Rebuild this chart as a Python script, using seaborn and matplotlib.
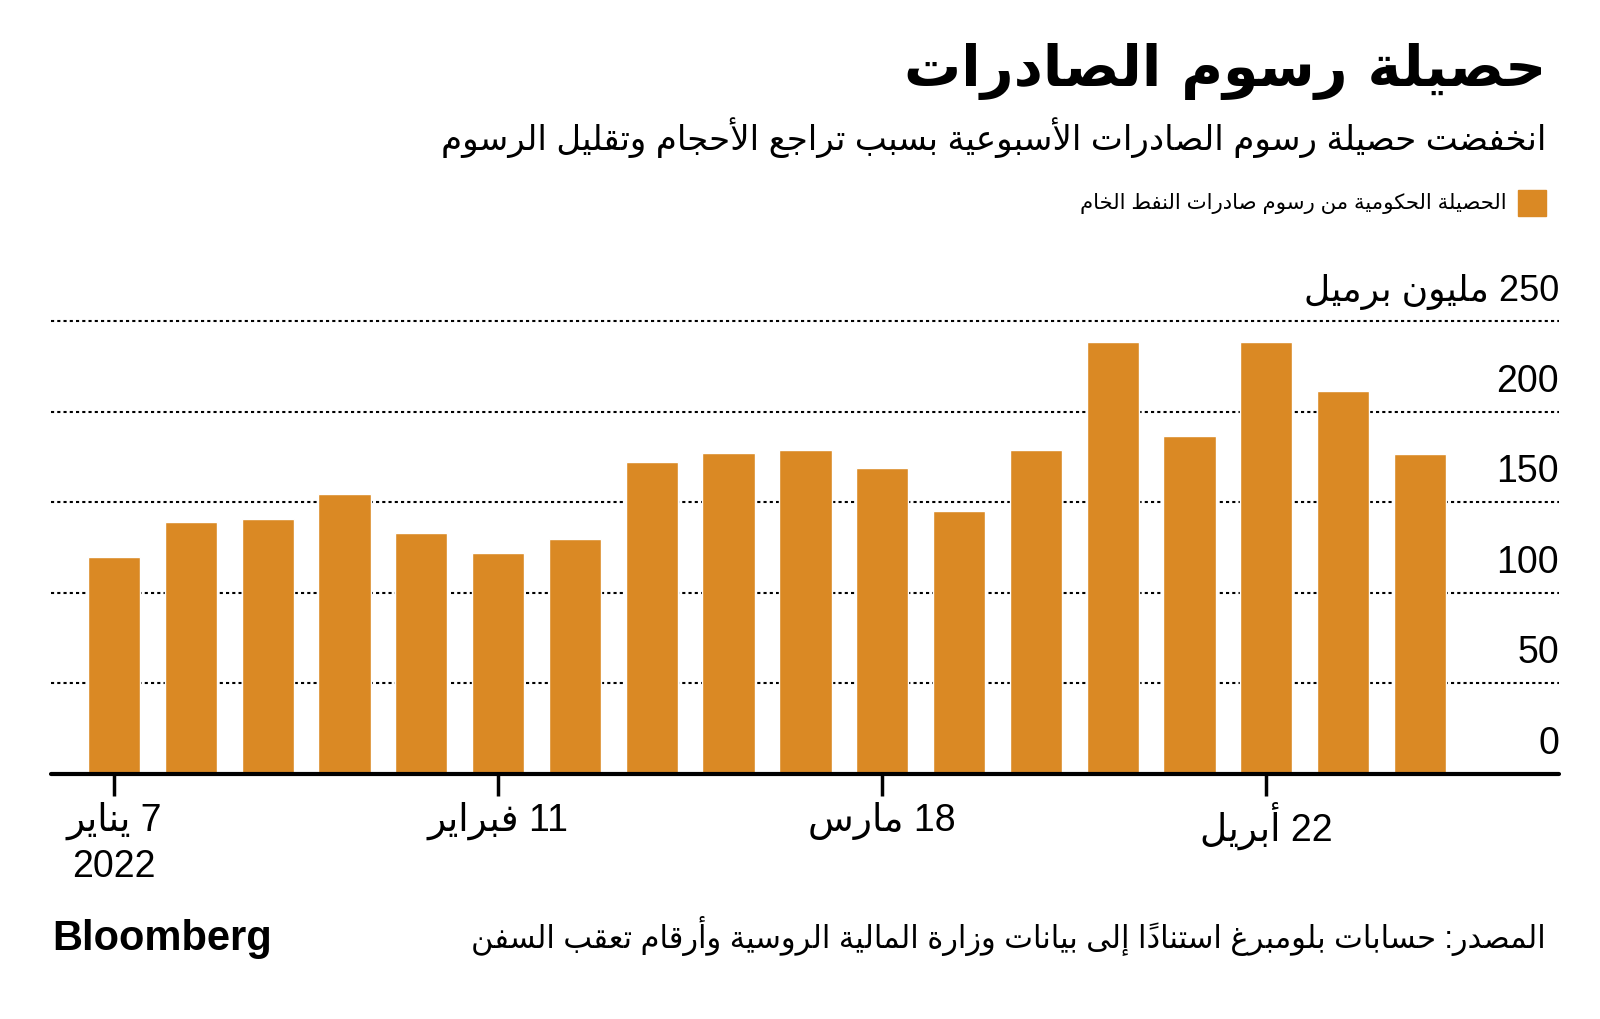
import matplotlib
matplotlib.use("Agg")
import matplotlib.pyplot as plt
import pandas as pd
import seaborn as sns

# weekly values
weeks = ["2022-01-07", "2022-01-14", "2022-01-21", "2022-01-28", "2022-02-04", "2022-02-11",
         "2022-02-18", "2022-02-25", "2022-03-04", "2022-03-11", "2022-03-18", "2022-03-25",
         "2022-04-01", "2022-04-08", "2022-04-15", "2022-04-22", "2022-04-29", "2022-05-06"]
revenue = [119.6, 139.2, 140.6, 154.5, 132.8, 122.1, 129.7, 172.4, 177.0, 178.9,
           168.9, 145.1, 178.9, 238.5, 186.7, 238.5, 211.5, 176.5]
y_ticks = [0, 50, 100, 150, 200]
x_tick_pos = [0, 5, 10, 15]
x_tick_labels = ["7 يناير\n2022", "11 فبراير", "18 مارس", "22 أبريل"]

title = "حصيلة رسوم الصادرات"
subtitle = "انخفضت حصيلة رسوم الصادرات الأسبوعية بسبب تراجع الأحجام وتقليل الرسوم"
legend_label = "الحصيلة الحكومية من رسوم صادرات النفط الخام"
unit_label = "250 مليون برميل"
source = "المصدر: حسابات بلومبرغ استناداً إلى بيانات وزارة المالية الروسية وأرقام تعقب السفن"

BAR = "#DA8924"

# --- minimal arabic shaping (matplotlib has no shaping / bidi) ---
_tab = [("ء", 0xFE80, 1), ("آ", 0xFE81, 2), ("أ", 0xFE83, 2), ("ؤ", 0xFE85, 2), ("إ", 0xFE87, 2),
        ("ئ", 0xFE89, 4), ("ا", 0xFE8D, 2), ("ب", 0xFE8F, 4), ("ة", 0xFE93, 2), ("ت", 0xFE95, 4),
        ("ث", 0xFE99, 4), ("ج", 0xFE9D, 4), ("ح", 0xFEA1, 4), ("خ", 0xFEA5, 4), ("د", 0xFEA9, 2),
        ("ذ", 0xFEAB, 2), ("ر", 0xFEAD, 2), ("ز", 0xFEAF, 2), ("س", 0xFEB1, 4), ("ش", 0xFEB5, 4),
        ("ص", 0xFEB9, 4), ("ض", 0xFEBD, 4), ("ط", 0xFEC1, 4), ("ظ", 0xFEC5, 4), ("ع", 0xFEC9, 4),
        ("غ", 0xFECD, 4), ("ف", 0xFED1, 4), ("ق", 0xFED5, 4), ("ك", 0xFED9, 4), ("ل", 0xFEDD, 4),
        ("م", 0xFEE1, 4), ("ن", 0xFEE5, 4), ("ه", 0xFEE9, 4), ("و", 0xFEED, 2), ("ى", 0xFEEF, 2),
        ("ي", 0xFEF1, 4)]
FORMS = {c: (start, n) for c, start, n in _tab}
LAMALEF = {"آ": 0xFEF5, "أ": 0xFEF7, "إ": 0xFEF9, "ا": 0xFEFB}
MARKS = set(chr(c) for c in range(0x064B, 0x0653))


def shape(s):
    toks = []
    i = 0
    while i < len(s):
        c = s[i]
        if c == "ل" and i + 1 < len(s) and s[i + 1] in LAMALEF:
            toks.append(("LA", s[i + 1]))
            i += 2
        else:
            toks.append((c, None))
            i += 1

    def nforms(t):
        if t[0] == "LA":
            return 2
        return FORMS[t[0]][1] if t[0] in FORMS else 0

    out = []
    for k, t in enumerate(toks):
        if t[0] in MARKS or nforms(t) == 0:
            out.append(t[0])
            continue
        p = k - 1
        while p >= 0 and toks[p][0] in MARKS:
            p -= 1
        q = k + 1
        while q < len(toks) and toks[q][0] in MARKS:
            q += 1
        jp = p >= 0 and nforms(toks[p]) == 4
        jn = nforms(t) == 4 and q < len(toks) and nforms(toks[q]) > 0
        if t[0] == "LA":
            out.append(chr(LAMALEF[t[1]] + (1 if jp else 0)))
            continue
        start, n = FORMS[t[0]]
        if n == 1:
            idx = 0
        elif n == 2:
            idx = 1 if jp else 0
        else:
            idx = 3 if (jp and jn) else 1 if jp else 2 if jn else 0
        out.append(chr(start + idx))
    # visual order: reverse clusters, keep digit runs LTR
    clusters = []
    for ch in out:
        if ch in MARKS and clusters:
            clusters[-1] += ch
        elif ch.isascii() and ch.isalnum() and clusters and clusters[-1].isascii() and clusters[-1].isalnum():
            clusters[-1] += ch
        else:
            clusters.append(ch)
    return "".join(reversed(clusters))


def ar(s):
    return "\n".join(shape(line) for line in s.split("\n"))


def main():
    sns.set_theme(style="white")
    plt.rcParams["font.family"] = ["Liberation Sans", "DejaVu Sans"]
    plt.rcParams["text.color"] = "black"
    plt.rcParams["xtick.color"] = "black"
    plt.rcParams["xtick.labelcolor"] = "black"

    W, H = 1600, 1019
    fig = plt.figure(figsize=(W / 100, H / 100), dpi=100)
    ax = fig.add_axes([51 / W, 1 - 774 / H, 1508 / W, 453 / H])

    df = pd.DataFrame({"week": weeks, "revenue": revenue})
    sns.barplot(data=df, x="week", y="revenue", color=BAR, saturation=1, width=0.68,
                ax=ax, zorder=3)

    ax.set_xlim(-0.82, 18.81)
    ax.set_ylim(0, 250)
    for v in [50, 100, 150, 200, 250]:
        ax.axhline(v, color="black", lw=1.5, ls=(0, (1.5, 1.5)), zorder=1, clip_on=False)
    ax.axhline(0, color="black", lw=3, zorder=4, clip_on=False)

    for s in ax.spines.values():
        s.set_visible(False)
    ax.set_yticks([])
    ax.set_xlabel("")
    ax.set_ylabel("")
    ax.set_xticks(x_tick_pos)
    ax.set_xticklabels([ar(t) for t in x_tick_labels], fontsize=27, linespacing=1.3)
    ax.tick_params(axis="x", length=16, width=2.5, color="black", pad=4, bottom=True)

    trans = ax.get_yaxis_transform()
    for v in y_ticks:
        ax.text(1.0, v + 11, str(v), transform=trans, ha="right", va="baseline", fontsize=27)
    ax.text(1.0, 261, ar(unit_label), transform=trans, ha="right", va="baseline", fontsize=26)

    def ftext(x, y, s, **kw):
        fig.text(x / W, 1 - y / H, s, **kw)

    ftext(1546, 72, ar(title), ha="right", va="center", fontsize=41, fontweight="bold",
          family=["DejaVu Sans"])
    ftext(1546, 138, ar(subtitle), ha="right", va="center", fontsize=24.5)
    fig.patches.append(plt.Rectangle((1518 / W, 1 - 216 / H), 28 / W, 26 / H,
                                     transform=fig.transFigure, color=BAR))
    ftext(1507, 203, ar(legend_label), ha="right", va="center", fontsize=15.3)
    ftext(1546, 936, ar(source), ha="right", va="center", fontsize=22)
    ftext(52, 939, "Bloomberg", ha="left", va="center", fontsize=30, fontweight="bold",
          family=["Liberation Sans"])

    fig.savefig("out.png", dpi=100, facecolor="white")


if __name__ == "__main__":
    main()
